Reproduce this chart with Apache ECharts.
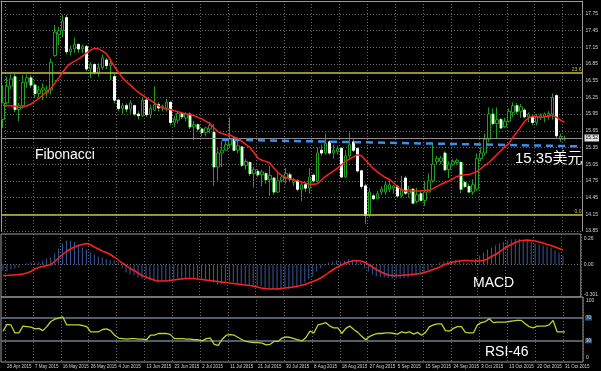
<!DOCTYPE html>
<html><head><meta charset="utf-8">
<script src="https://cdn.jsdelivr.net/npm/echarts@6/dist/echarts.min.js"></script>
<style>html,body{margin:0;padding:0;background:#000;}#c{width:601px;height:371px;}</style>
</head><body><div id="c"></div>
<script>
const tickLabels = ["28 Apr 2015","7 May 2015","16 May 2015","26 May 2015","4 Jun 2015","13 Jun 2015","23 Jun 2015","2 Jul 2015","11 Jul 2015","21 Jul 2015","30 Jul 2015","8 Aug 2015","18 Aug 2015","27 Aug 2015","5 Sep 2015","15 Sep 2015","24 Sep 2015","3 Oct 2015","13 Oct 2015","22 Oct 2015","31 Oct 2015"];

const opens = [15.85,16.15,16.45,16.62,16.03,16.10,16.52,16.60,16.47,16.32,
16.38,16.33,16.38,17.00,17.38,17.45,17.68,17.07,17.12,17.20,
17.12,17.16,16.76,16.84,16.70,16.78,16.92,16.82,16.62,16.20,
16.05,16.10,16.04,16.10,15.95,15.92,16.20,15.94,16.02,16.12,
16.06,16.06,16.16,15.80,15.84,15.96,15.88,15.95,15.72,15.76,
15.68,15.62,15.68,15.62,15.00,15.25,15.30,15.40,15.50,15.30,
15.36,15.03,15.08,14.88,14.92,14.86,14.88,14.77,14.80,14.55,
14.76,14.80,14.86,14.72,14.75,14.60,14.68,14.62,14.85,14.75,
15.30,15.25,15.45,15.25,15.28,15.33,14.82,15.20,15.45,15.33,
14.93,14.66,14.13,14.48,14.43,14.55,14.55,14.60,14.62,14.65,
14.48,14.80,14.53,14.60,14.38,14.52,14.40,14.55,14.75,15.10,
15.10,15.25,14.95,15.05,15.08,15.08,14.72,14.65,14.55,14.60,
15.15,15.25,15.50,15.95,15.78,15.85,15.72,15.82,15.98,16.10,
16.00,16.02,15.90,15.90,15.80,15.88,15.90,15.92,15.95,16.28,
15.50,15.50];
const highs = [16.47,16.62,16.66,16.67,16.15,16.65,16.66,16.65,16.50,16.45,
16.50,16.46,16.95,17.55,17.52,17.73,17.73,17.18,17.32,17.22,
17.20,17.19,16.88,16.86,16.86,17.02,16.96,16.92,16.68,16.22,
16.15,16.14,16.20,16.12,16.00,16.25,16.25,16.12,16.45,16.16,
16.12,16.22,16.18,15.92,16.00,15.99,15.98,15.98,15.83,15.78,
15.70,15.72,15.80,15.77,15.35,15.47,15.52,15.89,15.55,15.47,
15.38,15.14,15.10,15.00,14.96,14.95,14.90,15.02,14.82,14.90,
14.86,14.98,14.90,14.80,14.78,14.72,14.72,14.98,14.88,15.35,
15.40,15.60,15.48,15.40,15.38,15.36,15.30,15.62,15.50,15.35,
14.95,14.70,14.62,14.52,14.57,14.65,14.75,14.78,14.68,14.68,
14.84,14.84,14.66,14.62,14.62,14.57,14.75,14.88,15.42,15.20,
15.20,15.28,15.10,15.14,15.15,15.10,14.75,14.70,14.78,15.24,
15.35,15.60,16.07,16.05,16.07,15.88,15.88,16.05,16.16,16.15,
16.13,16.05,15.98,15.95,15.95,15.96,15.98,16.00,16.32,16.30,
15.60,15.56];
const lows = [15.70,16.12,16.40,15.98,15.82,16.05,16.42,16.42,16.25,16.25,
16.20,16.26,16.30,16.98,17.18,17.33,17.02,17.00,17.05,17.05,
17.05,16.72,16.60,16.66,16.62,16.74,16.76,16.56,16.15,16.00,
15.95,15.98,15.96,15.92,15.85,15.90,15.90,15.88,16.00,16.00,
16.00,16.00,15.75,15.72,15.78,15.86,15.82,15.68,15.48,15.64,
15.55,15.55,15.60,14.66,14.75,15.00,15.28,15.35,15.28,15.25,
15.00,14.96,14.84,14.63,14.82,14.65,14.70,14.48,14.50,14.53,
14.72,14.70,14.74,14.66,14.56,14.39,14.55,14.52,14.72,14.72,
15.20,15.22,15.22,15.15,15.22,14.80,14.80,15.15,15.27,14.90,
14.60,13.97,14.10,14.40,14.42,14.50,14.50,14.55,14.52,14.45,
14.45,14.50,14.45,14.33,14.35,14.38,14.30,14.55,14.72,15.05,
15.05,14.92,14.80,15.02,15.04,14.53,14.62,14.53,14.50,14.57,
15.10,15.20,15.45,15.75,15.52,15.68,15.70,15.80,15.90,15.95,
15.88,15.87,15.80,15.75,15.75,15.84,15.80,15.85,15.85,15.50,
15.45,15.47];
const closes = [16.15,16.45,16.58,16.03,16.10,16.52,16.60,16.47,16.32,16.38,
16.42,16.38,16.88,17.42,17.45,17.62,17.07,17.12,17.20,17.12,
17.16,16.76,16.84,16.70,16.78,16.96,16.82,16.86,16.20,16.05,
16.10,16.04,16.15,15.95,15.92,16.20,15.94,16.05,16.12,16.06,
16.09,16.16,15.80,15.86,15.96,15.90,15.95,15.72,15.76,15.68,
15.62,15.70,15.74,15.00,15.25,15.30,15.40,15.50,15.30,15.38,
15.03,15.10,14.88,14.95,14.86,14.91,14.77,14.85,14.55,14.75,
14.82,14.88,14.78,14.76,14.60,14.68,14.62,14.82,14.75,15.25,
15.25,15.42,15.25,15.30,15.33,14.82,15.20,15.40,15.30,14.93,
14.65,14.13,14.55,14.43,14.52,14.60,14.68,14.68,14.66,14.48,
14.60,14.53,14.60,14.35,14.50,14.40,14.55,14.75,15.05,15.15,
15.16,14.95,15.05,15.10,15.12,14.60,14.65,14.55,14.68,15.15,
15.25,15.50,15.95,15.78,15.85,15.70,15.82,16.00,16.10,16.00,
16.08,15.90,15.95,15.80,15.90,15.92,15.95,15.96,16.25,15.56,
15.55,15.52];

const ma = [16.11,16.10,16.10,16.09,16.07,16.07,16.10,16.13,16.18,16.23,
16.29,16.35,16.41,16.50,16.60,16.70,16.80,16.86,16.90,16.94,
16.99,17.05,17.10,17.13,17.12,17.08,17.03,16.92,16.80,16.70,
16.60,16.53,16.47,16.40,16.34,16.29,16.24,16.20,16.15,16.10,
16.06,16.04,16.03,16.01,15.99,15.97,15.95,15.94,15.92,15.89,
15.86,15.82,15.78,15.70,15.63,15.60,15.58,15.57,15.54,15.51,
15.46,15.40,15.35,15.26,15.16,15.12,15.10,15.07,14.98,14.90,
14.85,14.81,14.79,14.77,14.75,14.73,14.71,14.69,14.69,14.70,
14.77,14.83,14.88,14.93,14.98,15.04,15.10,15.14,15.18,15.22,
15.20,15.12,15.05,14.97,14.91,14.86,14.81,14.78,14.72,14.65,
14.59,14.57,14.57,14.57,14.57,14.57,14.58,14.58,14.61,14.65,
14.69,14.72,14.75,14.79,14.83,14.85,14.86,14.86,14.89,14.92,
14.97,15.03,15.08,15.15,15.22,15.29,15.36,15.42,15.53,15.62,
15.72,15.82,15.88,15.91,15.90,15.89,15.90,15.91,15.93,15.89,
15.84,15.80];

const macdHist = [-0.06,-0.07,-0.05,-0.04,-0.03,0.00,0.01,0.02,0.02,0.02,
0.04,0.06,0.07,0.11,0.16,0.21,0.24,0.235,0.225,0.20,
0.17,0.15,0.12,0.10,0.08,0.07,0.055,0.045,0.04,0.02,
-0.04,-0.08,-0.10,-0.11,-0.13,-0.14,-0.15,-0.16,-0.165,-0.17,
-0.165,-0.16,-0.155,-0.15,-0.145,-0.14,-0.135,-0.13,-0.135,-0.14,
-0.145,-0.15,-0.16,-0.18,-0.20,-0.195,-0.18,-0.17,-0.175,-0.185,
-0.19,-0.20,-0.205,-0.21,-0.215,-0.22,-0.23,-0.235,-0.245,-0.25,
-0.25,-0.245,-0.245,-0.24,-0.23,-0.20,-0.18,-0.15,-0.12,-0.07,
-0.04,-0.01,0.02,0.03,0.04,0.03,0.035,0.05,0.05,0.04,
0.02,-0.04,-0.07,-0.10,-0.12,-0.125,-0.13,-0.135,-0.14,-0.14,
-0.14,-0.135,-0.13,-0.12,-0.11,-0.10,-0.09,-0.06,-0.03,0.00,
0.02,0.03,0.035,0.04,0.045,0.04,0.02,0.015,0.02,0.06,
0.09,0.12,0.15,0.17,0.19,0.21,0.225,0.24,0.25,0.255,
0.255,0.25,0.24,0.225,0.21,0.20,0.19,0.18,0.17,0.14,
0.12,0.09];

const macdSignal = [-0.11,-0.11,-0.105,-0.105,-0.10,-0.095,-0.085,-0.07,-0.045,-0.03,
-0.02,-0.01,0.00,0.03,0.065,0.10,0.13,0.155,0.175,0.19,
0.20,0.21,0.20,0.175,0.155,0.135,0.12,0.10,0.075,0.045,
0.015,-0.01,-0.04,-0.06,-0.085,-0.11,-0.125,-0.14,-0.155,-0.165,
-0.165,-0.165,-0.16,-0.155,-0.15,-0.145,-0.14,-0.14,-0.14,-0.145,
-0.15,-0.155,-0.16,-0.165,-0.17,-0.175,-0.18,-0.185,-0.19,-0.195,
-0.20,-0.205,-0.21,-0.215,-0.225,-0.235,-0.24,-0.245,-0.245,-0.245,
-0.24,-0.235,-0.23,-0.225,-0.22,-0.21,-0.20,-0.185,-0.17,-0.155,
-0.135,-0.11,-0.08,-0.055,-0.03,-0.01,0.01,0.025,0.035,0.04,
0.035,0.025,0.00,-0.025,-0.05,-0.07,-0.09,-0.105,-0.11,-0.11,
-0.11,-0.105,-0.105,-0.10,-0.095,-0.09,-0.08,-0.07,-0.055,-0.04,
-0.025,-0.005,0.01,0.02,0.03,0.035,0.04,0.04,0.035,0.035,
0.035,0.04,0.055,0.08,0.10,0.125,0.155,0.18,0.20,0.22,
0.235,0.24,0.245,0.24,0.235,0.225,0.215,0.20,0.19,0.175,
0.16,0.145];

const rsi = [47,59,58,44,44,56,55,54,51,52,
48,55,64,68,70,72,58,58,58,58,
57,55,46,46,46,50,51,48,40,35,
34,33,34,34,33,33,32,40,40,43,
43,43,41,34,34,34,33,33,32,32,
30,34,35,24,22,33,40,41,40,36,
32,29,28,27,27,26,23,24,29,29,
35,37,36,34,32,30,36,47,44,58,
60,62,56,53,53,43,52,56,50,45,
38,32,38,41,43,43,44,44,43,42,
46,44,46,42,45,40,45,55,58,60,
60,48,47,52,55,55,45,44,44,58,
62,64,69,62,63,63,63,64,65,66,
66,60,55,53,56,56,56,58,66,46,
46,46];

const futureBars = 4;
const fibLevels = [16.69, 14.14];
const fibNames = ["23.6", "0.0"];
const lastPrice = 15.52;
const trendLine = [[55, 15.49], [145, 15.37]];
const trendLabel = "15.35美元";
const rsiLevels = [30, 70];
const rsiLabels = [0, 100];
const macdLabels = [-0.301, 0, 0.26];

const n = opens.length + futureBars;
const categories = Array.from({length: n}, (_, i) => String(i));
const candleData = opens.map((o, i) => [o, closes[i], lows[i], highs[i]]);
const bearBodies = opens.map((o, i) => closes[i] < o ? [o, closes[i], closes[i], o] : '-');
const isTick = i => i >= 1 && (i - 1) % 7 === 0;

const GRID_C = '#6a6a6a';
const FRAME = '#9a9a9a';
const LBL = '#d2d2d2';
const vSplit = {show: true, interval: (i) => isTick(i), lineStyle: {color: GRID_C, type: [1, 2], width: 1}};

const chart = echarts.init(document.getElementById('c'), null, {renderer: 'canvas'});
chart.setOption({
  backgroundColor: '#000',
  animation: false,
  grid: [
    {left: 1, right: 18, top: 1, height: 230, show: false},
    {left: 1, right: 18, top: 234, height: 63, show: true, borderColor: FRAME, borderWidth: 1},
    {left: 1, right: 18, top: 297, height: 65, show: true, borderColor: FRAME, borderWidth: 1}
  ],
  xAxis: [
    {gridIndex: 0, type: 'category', data: categories, position: 'top', boundaryGap: true,
     axisLine: {show: true, onZero: false, lineStyle: {color: FRAME}}, axisTick: {show: false},
     axisLabel: {show: false}, splitLine: vSplit},
    {gridIndex: 1, type: 'category', data: categories, position: 'top', boundaryGap: true,
     axisLine: {show: false, onZero: false}, axisTick: {show: false},
     axisLabel: {show: false}, splitLine: vSplit},
    {gridIndex: 2, type: 'category', data: categories, position: 'bottom', boundaryGap: true,
     axisLine: {show: false, onZero: false}, axisTick: {show: false},
     axisLabel: {show: true, interval: (i) => isTick(i), align: 'left', fontSize: 4.5, color: LBL, margin: 2,
       fontFamily: 'Liberation Sans',
       formatter: (v, i) => isTick(i) ? (tickLabels[(i - 1) / 7] || '') : ''},
     splitLine: vSplit}
  ],
  yAxis: [
    {gridIndex: 0, type: 'value', position: 'right', min: 13.85, max: 17.98, interval: 0.3,
     axisLine: {show: true, lineStyle: {color: FRAME}}, axisTick: {show: false},
     axisLabel: {fontSize: 5, color: LBL, margin: 3, showMaxLabel: false, fontFamily: 'Liberation Sans',
       formatter: v => v.toFixed(2)},
     splitLine: {show: true, lineStyle: {color: GRID_C, type: [1, 2]}}},
    {gridIndex: 1, type: 'value', position: 'right', min: -0.325, max: 0.305,
     axisLine: {show: false}, axisTick: {show: false},
     axisLabel: {customValues: macdLabels, fontSize: 5, color: LBL, margin: 3, fontFamily: 'Liberation Sans',
       formatter: v => v === 0 ? '0.00' : String(v)},
     splitLine: {show: false}},
    {gridIndex: 2, type: 'value', position: 'right', min: -7, max: 107,
     axisLine: {show: false}, axisTick: {show: false},
     axisLabel: {customValues: rsiLabels, fontSize: 5, color: LBL, margin: 3, fontFamily: 'Liberation Sans'},
     splitLine: {show: false}},
    {gridIndex: 0, type: 'value', position: 'left', min: 13.85, max: 17.98,
     axisLine: {show: true, lineStyle: {color: FRAME}}, axisTick: {show: false},
     axisLabel: {show: false}, splitLine: {show: false}}
  ],
  series: [
    {type: 'candlestick', name: 'price', xAxisIndex: 0, yAxisIndex: 0, data: candleData, barWidth: 3,
     itemStyle: {color: '#000', color0: '#000', borderColor: '#1f9e1f', borderColor0: '#1f9e1f', borderWidth: 1},
     markLine: {silent: true, symbol: ['none', 'none'], animation: false,
       data: [
         {yAxis: fibLevels[0], lineStyle: {color: '#c9c03c', width: 1.5, type: 'solid'},
          label: {show: true, position: 'insideEndTop', formatter: fibNames[0], color: '#c9c03c', fontSize: 5, distance: 1}},
         {yAxis: fibLevels[1], lineStyle: {color: '#c9c03c', width: 1.5, type: 'solid'},
          label: {show: true, position: 'insideEndTop', formatter: fibNames[1], color: '#c9c03c', fontSize: 5, distance: 1}},
         {yAxis: lastPrice, lineStyle: {color: '#8c8c8c', width: 1, type: 'solid'},
          label: {show: true, position: 'end', formatter: lastPrice.toFixed(2), color: '#000', backgroundColor: '#e4e4e4',
            fontSize: 5, padding: [1, 1], distance: 2}},
         [{coord: [String(trendLine[0][0]), trendLine[0][1]], lineStyle: {color: '#3b8fe8', width: 2.5, type: [7, 5]}, label: {show: false}},
          {coord: [String(trendLine[1][0]), trendLine[1][1]]}]
       ]}},
    {type: 'candlestick', name: 'bear', xAxisIndex: 0, yAxisIndex: 0, data: bearBodies, barWidth: 2,
     itemStyle: {color: '#fff', color0: '#fff', borderColor: '#fff', borderColor0: '#fff', borderWidth: 1}},
    {type: 'line', name: 'MA', xAxisIndex: 0, yAxisIndex: 0, data: ma, symbol: 'none',
     lineStyle: {color: '#ff2020', width: 1.5}, z: 5},
    {type: 'bar', name: 'MACD', xAxisIndex: 1, yAxisIndex: 1, data: macdHist, barWidth: 1,
     itemStyle: {color: '#3a5a9c'},
     markLine: {silent: true, symbol: ['none', 'none'], animation: false, label: {show: false},
       data: [{yAxis: 0, lineStyle: {color: GRID_C, type: [1, 2], width: 1}}]}},
    {type: 'line', name: 'Signal', xAxisIndex: 1, yAxisIndex: 1, data: macdSignal, symbol: 'none',
     lineStyle: {color: '#ff2020', width: 1.5}, z: 5},
    {type: 'line', name: 'RSI', xAxisIndex: 2, yAxisIndex: 2, data: rsi, symbol: 'none',
     lineStyle: {color: '#b9d531', width: 1.3}, z: 5,
     markLine: {silent: true, symbol: ['none', 'none'], animation: false,
       data: rsiLevels.map(v => ({yAxis: v, lineStyle: {color: '#6f7e88', width: 1.5, type: 'solid'},
         label: {show: true, position: 'end', formatter: String(v), fontSize: 4.5, color: '#cfe3f5',
           backgroundColor: '#2d4f73', padding: [0, 1], distance: 2}}))}}
  ],
  graphic: [
    {type: 'text', left: 35, top: 148, style: {text: 'Fibonacci', fill: '#fff', font: '14px "Liberation Sans", sans-serif'}},
    {type: 'text', left: 515, top: 151, style: {text: trendLabel, fill: '#fff', font: '15px "Liberation Sans", "Noto Sans CJK SC", sans-serif'}},
    {type: 'text', left: 473, top: 276, style: {text: 'MACD', fill: '#fff', font: '14px "Liberation Sans", sans-serif'}},
    {type: 'text', left: 485, top: 345, style: {text: 'RSI-46', fill: '#fff', font: '14px "Liberation Sans", sans-serif'}}
  ]
});
</script></body></html>
